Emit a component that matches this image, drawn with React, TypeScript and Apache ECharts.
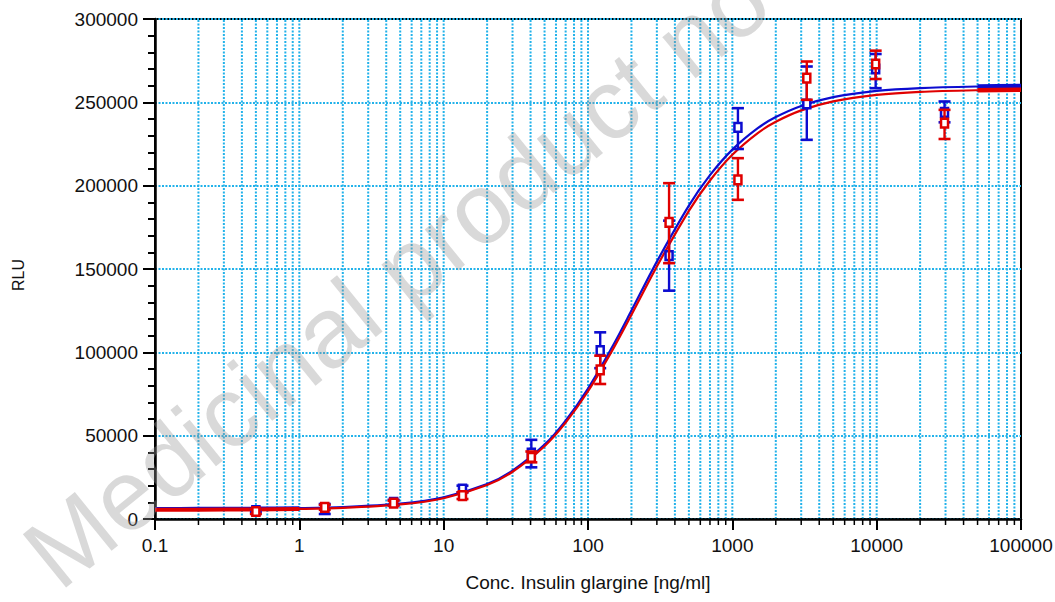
import React, { useEffect, useRef } from "react";
import * as echarts from "echarts";

// Dilution series (ng/ml) and measured RLU with error bars
const concentrations = [0.5, 1.5, 4.5, 13.5, 40.5, 121.5, 364.5, 1093.5, 3280.5, 9841.5, 29524.5];

const blueMean = [5000, 6000, 10000, 18000, 39500, 101000, 158000, 235000, 249000, 270000, 244000];
const blueLow = [4000, 3000, 8500, 16000, 31000, 90500, 137000, 222000, 227500, 258500, 238000];
const blueHigh = [6000, 9000, 11500, 20000, 47500, 112000, 179000, 246500, 271500, 279000, 250500];

const redMean = [4500, 7000, 9500, 14000, 37000, 89500, 178000, 203500, 264500, 273000, 237500];
const redLow = [3000, 5500, 8000, 12000, 34000, 81000, 153500, 191500, 251500, 264000, 228000];
const redHigh = [6000, 8500, 11000, 16000, 40500, 98000, 201500, 216500, 274500, 281000, 245500];

// Fitted dose-response curves, sampled along the concentration axis
const curveX = [0.1, 0.2, 0.5, 1, 2, 5, 10, 20, 30, 50, 70, 100, 150, 200, 300, 500, 700, 1000, 1500, 2000, 3000, 5000, 10000, 20000, 50000, 100000];
const blueCurve = [6040, 6080, 6230, 6500, 7120, 9180, 12960, 20920, 29010, 44610, 59000, 78270, 104530, 125050, 154440, 188060, 206280, 221620, 234480, 241150, 247830, 253090, 256830, 258570, 259500, 259770];
const redCurve = [5540, 5580, 5740, 6020, 6640, 8720, 12480, 20380, 28330, 43670, 57800, 76650, 102380, 122540, 151530, 184890, 203080, 218520, 231540, 238320, 245160, 250580, 254470, 256280, 257260, 257560];

// Axis ticks
const xDecades = [0.1, 1, 10, 100, 1000, 10000, 100000];
const xTickLabels = ["0.1", "1", "10", "100", "1000", "10000", "100000"];
const yMax = 300000;
const yStep = 50000;

const BLUE = "#0c0cd0";
const RED = "#e00000";
const GRID_CYAN = "#22b2ea";
const FONT = "'Liberation Sans', Arial, sans-serif";

// Log-spaced positions 2..9 within each decade, plus the inner decade lines
const gridXs: number[] = [];
for (let d = 0; d < xDecades.length - 1; d++) {
  for (let k = 1; k <= 9; k++) {
    if (k === 1 && d === 0) continue;
    gridXs.push(k * xDecades[d]);
  }
}

const isDecade = (v: number) => Math.abs(Math.log10(v) - Math.round(Math.log10(v))) < 1e-6;

function pointRenderer(color: string) {
  return (_params: any, api: any) => {
    const x = api.value(0);
    const c = api.coord([x, api.value(1)]);
    const lo = api.coord([x, api.value(2)]);
    const hi = api.coord([x, api.value(3)]);
    const cap = 6;
    const lineStyle = { stroke: color, lineWidth: 2.4 };
    return {
      type: "group",
      children: [
        { type: "line", shape: { x1: c[0], y1: hi[1], x2: c[0], y2: lo[1] }, style: lineStyle },
        { type: "line", shape: { x1: c[0] - cap, y1: hi[1], x2: c[0] + cap, y2: hi[1] }, style: { ...lineStyle, lineWidth: 2.6 } },
        { type: "line", shape: { x1: c[0] - cap, y1: lo[1], x2: c[0] + cap, y2: lo[1] }, style: { ...lineStyle, lineWidth: 2.6 } },
        {
          type: "rect",
          shape: { x: c[0] - 3.5, y: c[1] - 4.3, width: 7, height: 8.6 },
          style: { fill: "#ffffff", stroke: color, lineWidth: 2.5 },
        },
      ],
    };
  };
}

export default function App() {
  const ref = useRef<HTMLDivElement>(null);

  useEffect(() => {
    if (!ref.current) return;
    const chart = echarts.init(ref.current, undefined, { renderer: "svg" });

    const curveData = (ys: number[]) => curveX.map((x, i) => [x, ys[i]]);
    const pointData = (m: number[], lo: number[], hi: number[]) =>
      concentrations.map((x, i) => [x, m[i], lo[i], hi[i]]);

    const curveSeries = (name: string, ys: number[], color: string) => [
      {
        name,
        type: "line",
        data: curveData(ys),
        smooth: 0.3,
        showSymbol: false,
        symbol: "none",
        z: 3,
        lineStyle: { color, width: 2.2 },
      },
      {
        type: "line",
        data: curveData(ys).slice(0, 4),
        smooth: 0.3,
        symbol: "none",
        z: 3,
        lineStyle: { color, width: 4 },
      },
      {
        type: "line",
        data: curveData(ys).slice(-2),
        symbol: "none",
        z: 3,
        lineStyle: { color, width: 4.5 },
      },
    ];

    chart.setOption({
      animation: false,
      backgroundColor: "#ffffff",
      grid: {
        left: 155,
        right: 34,
        top: 19,
        bottom: 83,
        show: true,
        borderColor: "#000",
        borderWidth: 2,
        backgroundColor: "transparent",
        outerBoundsMode: "none",
      },
      xAxis: {
        type: "log",
        logBase: 10,
        min: 0.1,
        max: 100000,
        interval: 1,
        name: "Conc. Insulin glargine [ng/ml]",
        nameLocation: "middle",
        nameGap: 54,
        nameTextStyle: { fontSize: 19, color: "#111", fontFamily: FONT },
        axisLine: { show: true, onZero: false, lineStyle: { color: "#000", width: 2.5 } },
        axisTick: { show: true, inside: false, length: 11, lineStyle: { color: "#000", width: 2 } },
        axisLabel: {
          margin: 17,
          fontSize: 19,
          color: "#111",
          fontFamily: FONT,
          formatter: (v: number) => {
            const i = xDecades.findIndex((d) => Math.abs(Math.log10(d) - Math.log10(v)) < 1e-6);
            return i >= 0 ? xTickLabels[i] : "";
          },
        },
        splitLine: { show: false },
        minorTick: { show: false },
      },
      yAxis: {
        type: "value",
        min: 0,
        max: yMax,
        interval: yStep,
        axisLine: { show: true, lineStyle: { color: "#000", width: 2.5 } },
        axisTick: { show: true, inside: false, length: 12, lineStyle: { color: "#000", width: 2 } },
        minorTick: { show: true, splitNumber: 5, length: 7, lineStyle: { color: "#000", width: 2 } },
        axisLabel: {
          margin: 17,
          fontSize: 19,
          color: "#111",
          fontFamily: FONT,
          formatter: (v: number) => String(v),
        },
        splitLine: { show: true, lineStyle: { color: GRID_CYAN, width: 2, type: [2, 1.5] } },
      },
      graphic: [
        {
          type: "text",
          x: 18,
          y: 275,
          rotation: Math.PI / 2,
          style: {
            text: "RLU",
            fontSize: 16,
            fontFamily: FONT,
            fill: "#111",
            align: "center",
            verticalAlign: "middle",
          },
        },
        {
          type: "text",
          x: 38,
          y: 566,
          z: 100,
          rotation: (39 * Math.PI) / 180,
          silent: true,
          style: {
            text: "Medicinal product no longer authorised",
            fontSize: 100,
            fontFamily: FONT,
            fill: "rgba(150,150,150,0.36)",
            align: "left",
            verticalAlign: "middle",
          },
        },
      ],
      series: [
        {
          type: "custom",
          z: 1,
          silent: true,
          data: gridXs.map((x) => [x, 0]),
          renderItem: (_p: any, api: any) => {
            const x = api.value(0);
            const b = api.coord([x, 0]);
            const t = api.coord([x, yMax]);
            const children: any[] = [
              {
                type: "line",
                shape: { x1: b[0], y1: t[1] + 1, x2: b[0], y2: b[1] - 1 },
                style: { stroke: GRID_CYAN, lineWidth: 2, lineDash: [2, 1.5] },
              },
            ];
            if (!isDecade(x)) {
              children.push({
                type: "line",
                shape: { x1: b[0], y1: b[1], x2: b[0], y2: b[1] + 6 },
                style: { stroke: "#000", lineWidth: 1.5 },
              });
            }
            return { type: "group", children };
          },
        },
        ...curveSeries("blue fit", blueCurve, BLUE),
        ...curveSeries("red fit", redCurve, RED),
        {
          type: "custom",
          name: "blue",
          z: 4,
          data: pointData(blueMean, blueLow, blueHigh),
          renderItem: pointRenderer(BLUE),
        },
        {
          type: "custom",
          name: "red",
          z: 5,
          data: pointData(redMean, redLow, redHigh),
          renderItem: pointRenderer(RED),
        },
      ],
    });

    return () => chart.dispose();
  }, []);

  return (
    <div
      ref={ref}
      style={{ position: "fixed", left: 0, top: 0, width: 1055, height: 602, background: "#fff" }}
    />
  );
}
